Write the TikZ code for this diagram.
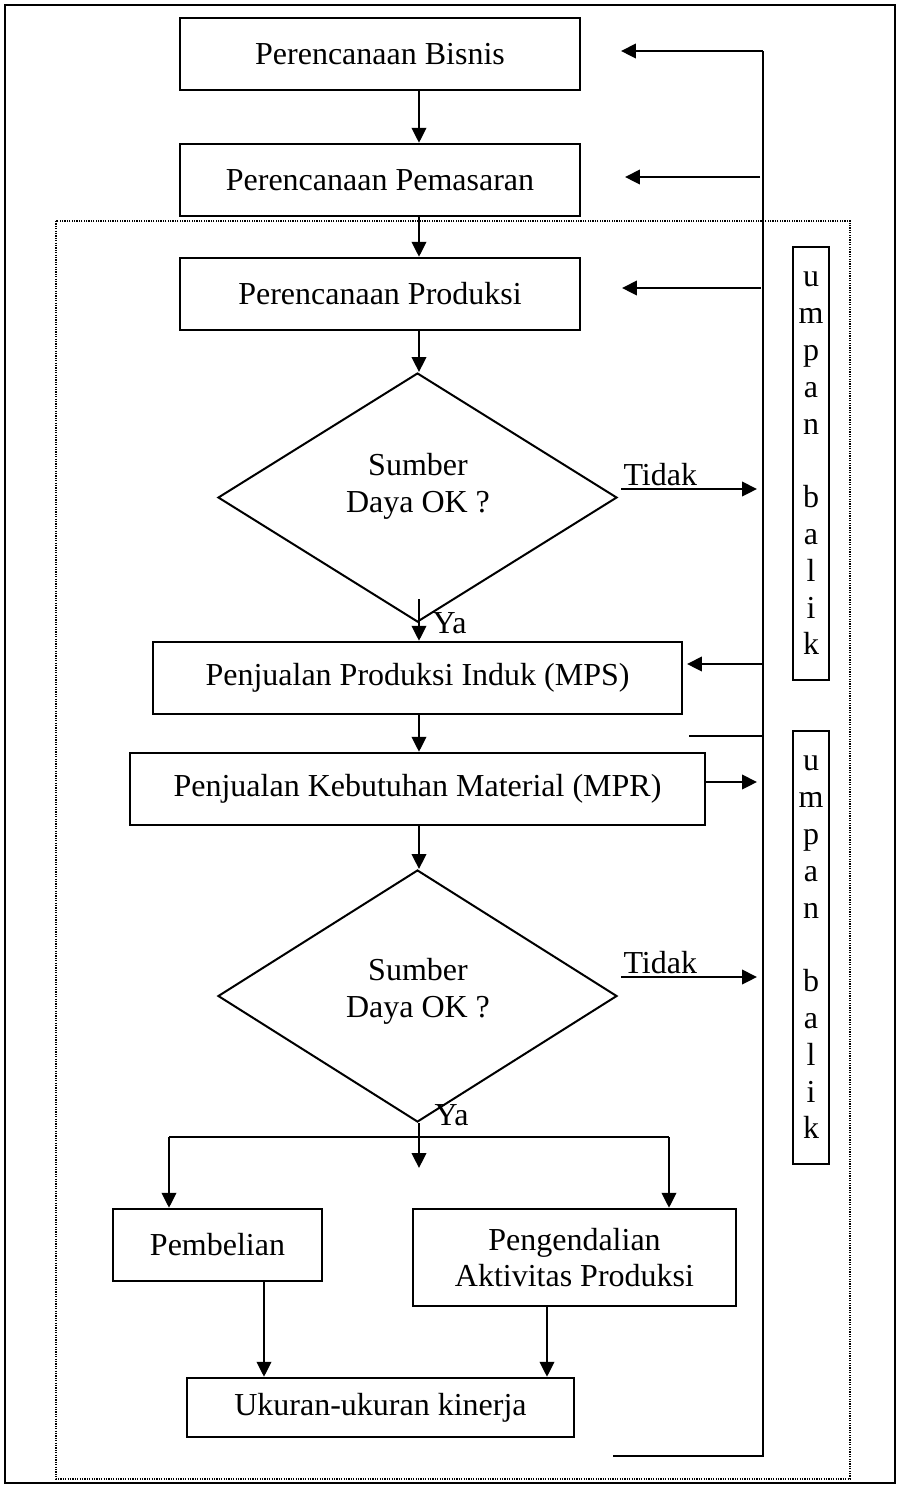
\documentclass[tikz,border=0pt]{standalone}
\usepackage{fontspec}
\setmainfont{Liberation Serif}
\usetikzlibrary{arrows.meta,shapes.geometric,calc}
\def\u{0.375pt}
\begin{document}
\begin{tikzpicture}[x=0.375pt,y=-0.375pt,
  txt/.style={font=\fontsize{12}{13.8}\selectfont},
  box/.style={draw, line width=0.9pt, inner sep=0pt, align=center, txt},
  arr/.style={line width=0.9pt, -{Triangle[length=5.6pt,width=5.4pt]}},
  ln/.style={line width=1.0pt},
  fb/.style={line width=1.1pt},
  vbox/.style={draw, line width=0.7pt, minimum width=36*\u, minimum height=433*\u, inner sep=0pt, align=center, txt},
  dia/.style={draw, diamond, line width=0.75pt, minimum width=399*\u, inner sep=0pt},
  lbl/.style={inner sep=0pt, txt}
]
\useasboundingbox (0,0) rectangle (901,1488);
% frames
\draw[line width=0.8pt] (5,5) rectangle (895,1483);
\draw[dash pattern=on 0.45pt off 0.45pt, line width=0.6pt] (56,221) rectangle (850,1479);
% nodes
\node[box, minimum width=400*\u, minimum height=72*\u] (b1) at (380,54) {Perencanaan Bisnis};
\node[box, minimum width=400*\u, minimum height=72*\u] (b2) at (380,180) {Perencanaan Pemasaran};
\node[box, minimum width=400*\u, minimum height=72*\u] (b3) at (380,294) {Perencanaan Produksi};
\node[dia, minimum height=249*\u] (d1) at (417.5,497.5) {};
\node[lbl, align=center] (t1) at (418,486) {Sumber\\Daya OK ?};
\node[box, minimum width=529*\u, minimum height=72*\u] (mps) at (417.5,678) {Penjualan Produksi Induk (MPS)};
\node[box, minimum width=575*\u, minimum height=72*\u] (mpr) at (417.5,789) {Penjualan Kebutuhan Material (MPR)};
\node[dia, minimum height=252*\u] (d2) at (417.5,996) {};
\node[lbl, align=center] (t2) at (418,991) {Sumber\\Daya OK ?};
\node[box, minimum width=209*\u, minimum height=72*\u] (pem) at (217.5,1245) {Pembelian};
\node[box, minimum width=323*\u, minimum height=97*\u] (pen) at (574.5,1257.5) {Pengendalian\\Aktivitas Produksi};
\node[box, minimum width=387*\u, minimum height=59*\u] (uk) at (380.5,1407.5) {Ukuran-ukuran kinerja};
\node[vbox] (ub1) at (811,463.5) {u\\m\\p\\a\\n\\\mbox{}\\b\\a\\l\\i\\k};
\node[vbox] (ub2) at (811,947.5) {u\\m\\p\\a\\n\\\mbox{}\\b\\a\\l\\i\\k};
% labels
\node[lbl, anchor=base west] (tk1) at (623,485) {Tidak};
\node[lbl, anchor=base west] (tk2) at (623,973) {Tidak};
\node[lbl, anchor=base west] (ya1) at (432,633) {Ya};
\node[lbl, anchor=base west] (ya2) at (434,1125) {Ya};
% main spine
\coordinate (sp) at (419,0);
\draw[arr] (b1.south -| sp) -- (b2.north -| sp);
\draw[arr] (b2.south -| sp) -- (b3.north -| sp);
\draw[arr] (b3.south -| sp) -- (d1.north -| sp);
\draw[arr] ($(d1.south -| sp)+(0,-24)$) -- (mps.north -| sp);
\draw[arr] (mps.south -| sp) -- (mpr.north -| sp);
\draw[arr] (mpr.south -| sp) -- (d2.north -| sp);
\coordinate (cEnd) at (419,1168);
\draw[arr] (d2.south -| sp) -- (cEnd);
\coordinate (sL) at (169,1137);
\coordinate (sR) at (669,1137);
\draw[fb] (sL) -- (sR);
\draw[arr] (sL) -- (pem.north -| sL);
\draw[arr] (sR) -- (pen.north -| sR);
\coordinate (pL) at (264,0);
\coordinate (pR) at (547,0);
\draw[arr] (pem.south -| pL) -- (uk.north -| pL);
\draw[arr] (pen.south -| pR) -- (uk.north -| pR);
% feedback
\coordinate (fTop) at (763,51);
\coordinate (fBot) at (763,1456);
\coordinate (fEnd) at (613,1456);
\draw[fb] (fTop) -- (fBot) -- (fEnd);
\coordinate (a1) at (621,51);
\coordinate (f2) at (760,177);
\coordinate (a2) at (625,177);
\coordinate (f3) at (761,288);
\coordinate (a3) at (622,288);
\coordinate (f4) at (763,664);
\coordinate (a4) at (687,664);
\draw[arr] (fTop) -- (a1);
\draw[arr] (f2) -- (a2);
\draw[arr] (f3) -- (a3);
\draw[arr] (f4) -- (a4);
\coordinate (k1s) at (621,489);
\coordinate (k1e) at (757,489);
\coordinate (k2s) at (621,977);
\coordinate (k2e) at (757,977);
\draw[arr] (k1s) -- (k1e);
\draw[arr] (k2s) -- (k2e);
\coordinate (m1) at (757,782);
\draw[arr] (mpr.east |- m1) -- (m1);
\coordinate (h1) at (689,736);
\coordinate (h2) at (763,736);
\draw[ln] (h1) -- (h2);
\end{tikzpicture}
\end{document}
